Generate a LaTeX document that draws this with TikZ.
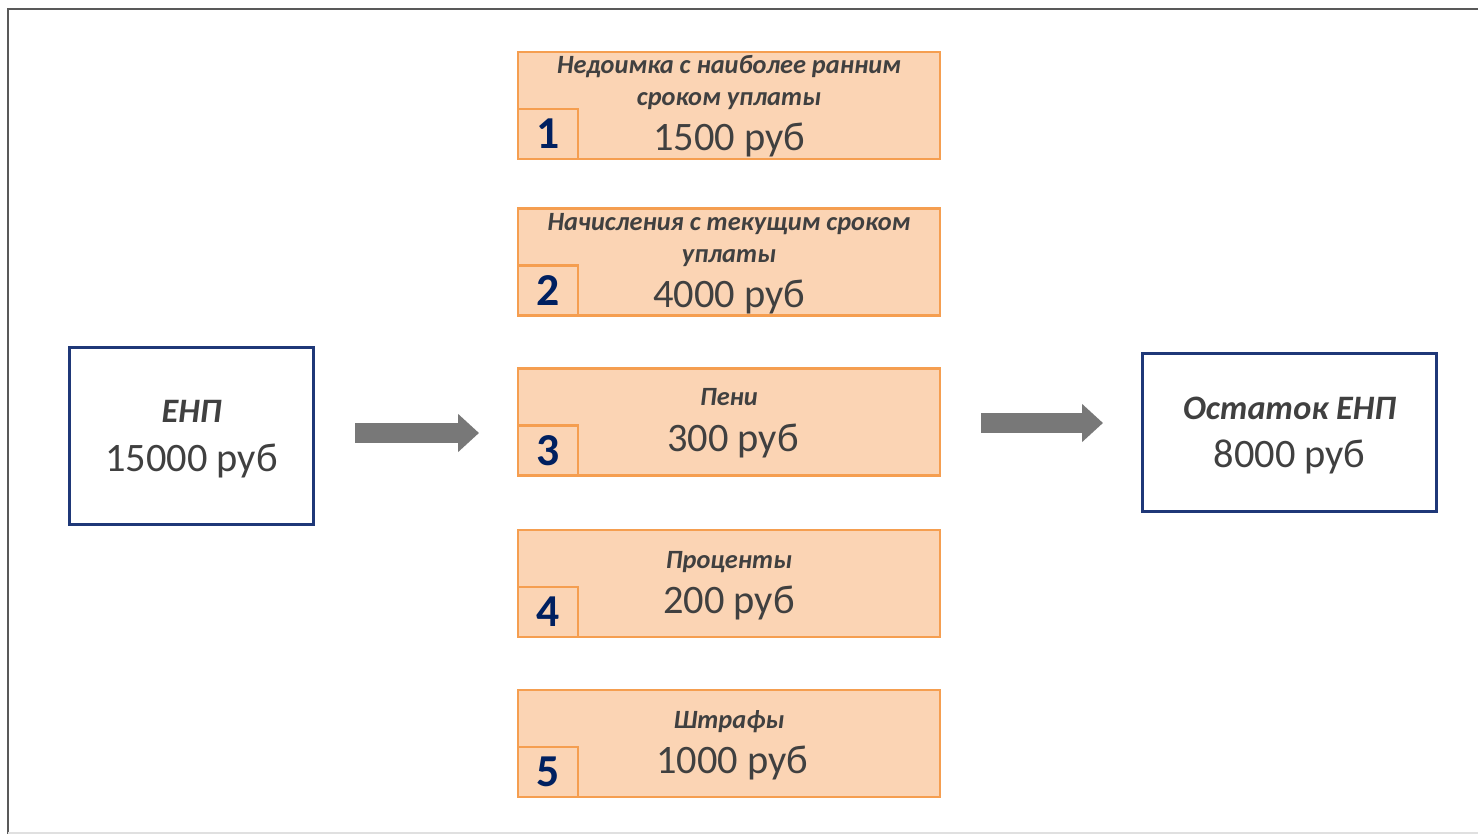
\documentclass[tikz,border=0pt]{standalone}
\usepackage{fontspec}
\setmainfont{Carlito}
\usetikzlibrary{positioning, arrows.meta, calc}
\definecolor{FrameGray}{RGB}{89, 89, 89}
\definecolor{TextGray}{RGB}{64, 64, 64}
\definecolor{EnpBlue}{RGB}{31, 56, 120}
\definecolor{NumBlue}{RGB}{0, 32, 96}
\definecolor{DebtFill}{RGB}{251, 212, 180}
\definecolor{DebtBorder}{RGB}{245, 158, 80}
\definecolor{ArrowGray}{RGB}{120, 120, 120}

\begin{document}
\begin{tikzpicture}[
    x=0.02cm, y=-0.02cm,
    % Global Styles
    enpbox/.style={
        rectangle,
        draw=EnpBlue,          % Blue Border
        line width=1.7pt,
        fill=white,
        inner sep=0pt
    },
    debtbox/.style={
        rectangle,
        draw=DebtBorder,       % Orange Border
        line width=1.6pt,
        fill=DebtFill,         % Light Orange Background
        minimum width=8.44cm,
        minimum height=2.14cm,
        inner sep=0pt
    },
    numbox/.style={
        rectangle,
        draw=DebtBorder,
        line width=1.6pt,
        fill=DebtFill,
        minimum width=1.2cm,
        minimum height=1cm,
        inner sep=0pt,
        text=NumBlue,          % Dark Blue Digits
        font=\fontsize{26}{26}\selectfont\bfseries
    },
    title_text/.style={
        text=TextGray,
        font=\fontsize{15}{18}\selectfont\bfseries\itshape,
        anchor=base,
        inner sep=0pt
    },
    enp_title/.style={
        text=TextGray,
        font=\fontsize{19.5}{22}\selectfont\bfseries\itshape,
        anchor=base,
        inner sep=0pt
    },
    sum_text/.style={
        text=TextGray,
        font=\fontsize{23}{27}\selectfont,
        anchor=base,
        inner sep=0pt
    },
    bigarrow/.style={
        draw=ArrowGray,
        line width=0.41cm,
        -{Triangle[length=0.42cm, width=0.74cm]}
    }
]
    \useasboundingbox (0,0) rectangle (1478,834);

    % --- Frame ---
    \draw[FrameGray, line width=1.7pt] (8,834) -- (8,9) -- (1478,9);
    \draw[black!12, line width=0.6pt] (8,833) -- (1478,833);

    % --- Left and right boxes ---
    \node[enpbox, minimum width=4.9cm, minimum height=3.56cm] (enp) at (191.5,436) {};
    \node[enp_title] (enpname) at ($(enp.center)+(0,-13)$) {ЕНП};
    \node[sum_text] (enpsum) at ($(enp.center)+(0,36)$) {15000 руб};

    \node[enpbox, minimum width=5.9cm, minimum height=3.18cm] (rest) at (1289.5,432.5) {};
    \node[enp_title] (restname) at ($(rest.center)+(0,-13)$) {Остаток ЕНП};
    \node[sum_text] (restsum) at ($(rest.center)+(0,35)$) {8000 руб};

    % --- Order of debts ---
    \node[debtbox] (debt1) at (729,105.5) {};
    \node[debtbox] (debt2) at (729,262) {};
    \node[debtbox] (debt3) at (729,422) {};
    \node[debtbox] (debt4) at (729,583.5) {};
    \node[debtbox] (debt5) at (729,743.5) {};

    % Number tabs in the lower left corner
    \node[numbox, anchor=south west] (num1) at (debt1.south west) {1};
    \node[numbox, anchor=south west] (num2) at (debt2.south west) {2};
    \node[numbox, anchor=south west] (num3) at (debt3.south west) {3};
    \node[numbox, anchor=south west] (num4) at (debt4.south west) {4};
    \node[numbox, anchor=south west] (num5) at (debt5.south west) {5};

    % Titles
    \node[title_text] (title1a) at ($(debt1.north)+(0,23)$) {Недоимка с наиболее ранним};
    \node[title_text] (title1b) at ($(debt1.north)+(0,55)$) {сроком уплаты};
    \node[title_text] (title2a) at ($(debt2.north)+(0,23)$) {Начисления с текущим сроком};
    \node[title_text] (title2b) at ($(debt2.north)+(0,55)$) {уплаты};
    \node[title_text] (title3) at ($(debt3.north)+(0,38)$) {Пени};
    \node[title_text] (title4) at ($(debt4.north)+(0,40)$) {Проценты};
    \node[title_text] (title5) at ($(debt5.north)+(0,40)$) {Штрафы};

    % Amounts
    \node[sum_text] (sum1) at ($(debt1.north)+(0,100)$) {1500 руб};
    \node[sum_text] (sum2) at ($(debt2.north)+(0,100)$) {4000 руб};
    \node[sum_text] (sum3) at ($(debt3.north)+(4,84)$) {300 руб};
    \node[sum_text] (sum4) at ($(debt4.north)+(0,85)$) {200 руб};
    \node[sum_text] (sum5) at ($(debt5.north)+(3,85)$) {1000 руб};

    % --- Block arrows ---
    \coordinate (arr1from) at (355,433);
    \coordinate (arr1to) at (479,433);
    \coordinate (arr2from) at (981,423);
    \coordinate (arr2to) at (1103,423);
    \draw[bigarrow] (arr1from) -- (arr1to);
    \draw[bigarrow] (arr2from) -- (arr2to);

\end{tikzpicture}
\end{document}
